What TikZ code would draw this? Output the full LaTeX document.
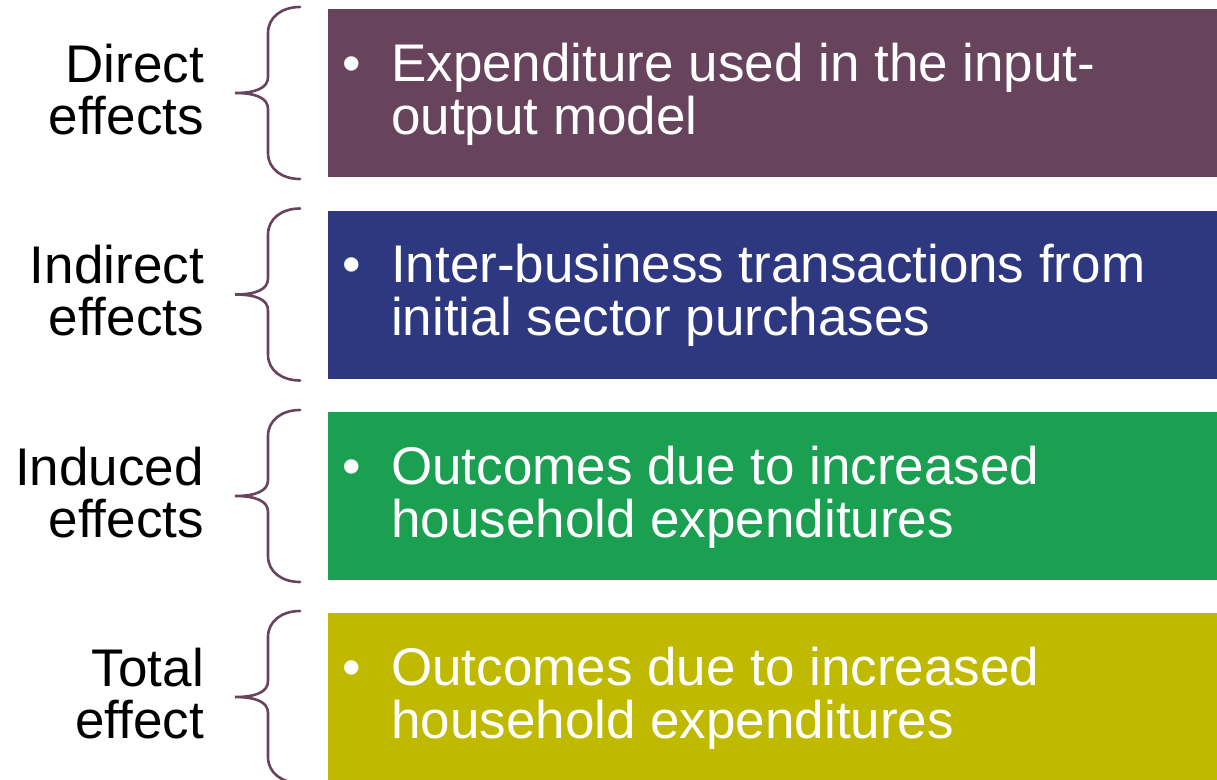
\documentclass[tikz,border=0pt]{standalone}
\usepackage{fontspec}
\setmainfont{Liberation Sans}
\definecolor{effdirect}{RGB}{103,67,92}
\definecolor{effindirect}{RGB}{46,56,128}
\definecolor{effinduced}{RGB}{27,160,82}
\definecolor{efftotal}{RGB}{191,186,0}
\definecolor{braceplum}{RGB}{104,68,92}

% One row: a coloured band with a bulleted text, a curly brace and a label.
% #1 name, #2 top of the band, #3 colour, #4/#5 label lines, #6/#7 band text lines
\newcommand\effectrow[7]{%
  \node[band, fill=#3] (#1box) at (328,#2) {};
  \draw[brace] (300,#2-2) .. controls (282,#2-2) and (268,#2+8) .. (268,#2+24)
    -- (268,#2+68) .. controls (268,#2+79) and (256,#2+84) .. (235,#2+84)
    .. controls (256,#2+84) and (268,#2+89) .. (268,#2+100)
    -- (268,#2+144) .. controls (268,#2+160) and (282,#2+170) .. (300,#2+170);
  \node[label] (#1labA) at (204,#2+73) {#4};
  \node[label] (#1labB) at (204,#2+125) {#5};
  \node[dot] (#1dot) at (352,#2+72) {\textbullet};
  \node[boxtext] (#1lineA) at (391,#2+72) {#6};
  \node[boxtext] (#1lineB) at (391,#2+125) {#7};
}

\begin{document}
\begin{tikzpicture}[x=1pt, y=-1pt,
  band/.style={rectangle, inner sep=0pt, minimum width=889pt, minimum height=168pt, anchor=north west},
  brace/.style={draw=braceplum, line width=2.6pt, line cap=round},
  bigfont/.style={font=\fontsize{53}{53}\selectfont},
  boxtext/.style={bigfont, text=white, anchor=base west, inner sep=0pt},
  dot/.style={bigfont, text=white, anchor=base, inner sep=0pt},
  label/.style={bigfont, text=black, anchor=base east, inner sep=0pt}]
\useasboundingbox (0,0) rectangle (1217,779);

\effectrow{direct}{9}{effdirect}{Direct}{effects}%
  {Expenditure used in the input-}{output model}
\effectrow{indirect}{210.5}{effindirect}{Indirect}{effects}%
  {Inter-business transactions from}{initial sector purchases}
\effectrow{induced}{412}{effinduced}{Induced}{effects}%
  {Outcomes due to increased}{household expenditures}
\effectrow{total}{613}{efftotal}{Total}{effect}%
  {Outcomes due to increased}{household expenditures}
\end{tikzpicture}
\end{document}
